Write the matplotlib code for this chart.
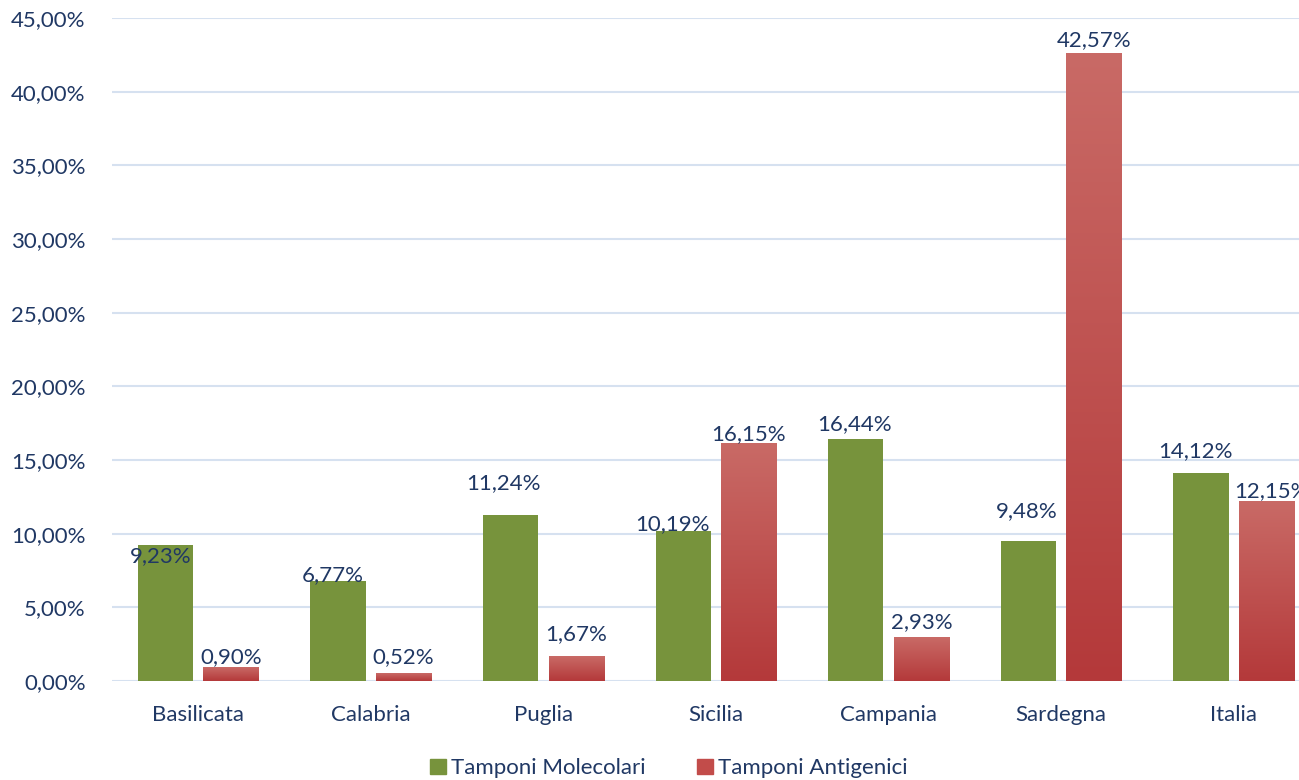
import numpy as np
import matplotlib
matplotlib.use("Agg")
import matplotlib.pyplot as plt
from matplotlib.colors import LinearSegmentedColormap
from matplotlib.patches import Patch

regions = ["Basilicata", "Calabria", "Puglia", "Sicilia", "Campania", "Sardegna", "Italia"]
molecolari = [9.23, 6.77, 11.24, 10.19, 16.44, 9.48, 14.12]
antigenici = [0.90, 0.52, 1.67, 16.15, 2.93, 42.57, 12.15]

# hand-placed label spots (x offset from group centre, y in %), like the original
mol_label_pos = [(-0.22, 8.45), (-0.22, 7.2), (-0.23, 13.45), (-0.25, 10.65), (-0.2, 17.45), (-0.2, 11.55), (-0.22, 15.6)]
ant_label_pos = [(0.19, 1.65), (0.19, 1.65), (0.19, 3.2), (0.19, 16.75), (0.19, 4.0), (0.19, 43.5), (0.22, 12.9)]

text_col = "#203864"
green = "#77933c"
red_top, red_bot = "#c96a66", "#b4393a"
fs = 16

plt.rcParams["font.family"] = ["Lato", "DejaVu Sans"]

fig = plt.figure(figsize=(12.99, 7.8), dpi=100)
ax = fig.add_axes([0.0862, 0.127, 0.93, 0.85])

x = np.arange(len(regions))
w = 0.32
off = 0.19

ax.bar(x - off, molecolari, w, color=green, zorder=3)
red_bars = ax.bar(x + off, antigenici, w, color="none", zorder=3)

cmap = LinearSegmentedColormap.from_list("redgrad", [red_bot, red_top])
grad = np.linspace(0, 1, 256).reshape(-1, 1)
for b in red_bars:
    x0, y0 = b.get_x(), b.get_y()
    ax.imshow(grad, cmap=cmap, origin="lower", aspect="auto",
              extent=[x0, x0 + b.get_width(), y0, y0 + b.get_height()], zorder=3)

for i in range(len(regions)):
    dx, yy = mol_label_pos[i]
    ax.text(i + dx, yy, f"{molecolari[i]:.2f}%".replace(".", ","), ha="center", va="center",
            fontsize=fs, color=text_col, zorder=5)
    dx, yy = ant_label_pos[i]
    ax.text(i + dx, yy, f"{antigenici[i]:.2f}%".replace(".", ","), ha="center", va="center",
            fontsize=fs, color=text_col, zorder=5)

ax.set_xlim(-0.5, len(regions) - 0.5)
ax.set_ylim(0, 45)
yt = np.arange(0, 46, 5)
ax.set_yticks(yt)
ax.set_yticklabels([f"{v:.2f}%".replace(".", ",") for v in yt])
ax.set_xticks(x)
ax.set_xticklabels(regions)
ax.tick_params(length=0, labelsize=fs, labelcolor=text_col)
ax.tick_params(axis="x", pad=17)
ax.tick_params(axis="y", pad=19)
ax.grid(axis="y", color="#d6e1f0", linewidth=1.5, zorder=0)
for s in ax.spines.values():
    s.set_visible(False)

handles = [Patch(color=green), Patch(color="#c24c4a")]
fig.legend(handles, ["Tamponi Molecolari", "Tamponi Antigenici"], loc="center",
           bbox_to_anchor=(0.515, 0.015), ncol=2, frameon=False, fontsize=fs,
           labelcolor=text_col, handlelength=0.7, handleheight=0.7, handletextpad=0.25,
           columnspacing=2.3)

fig.savefig("out.png", dpi=100)
